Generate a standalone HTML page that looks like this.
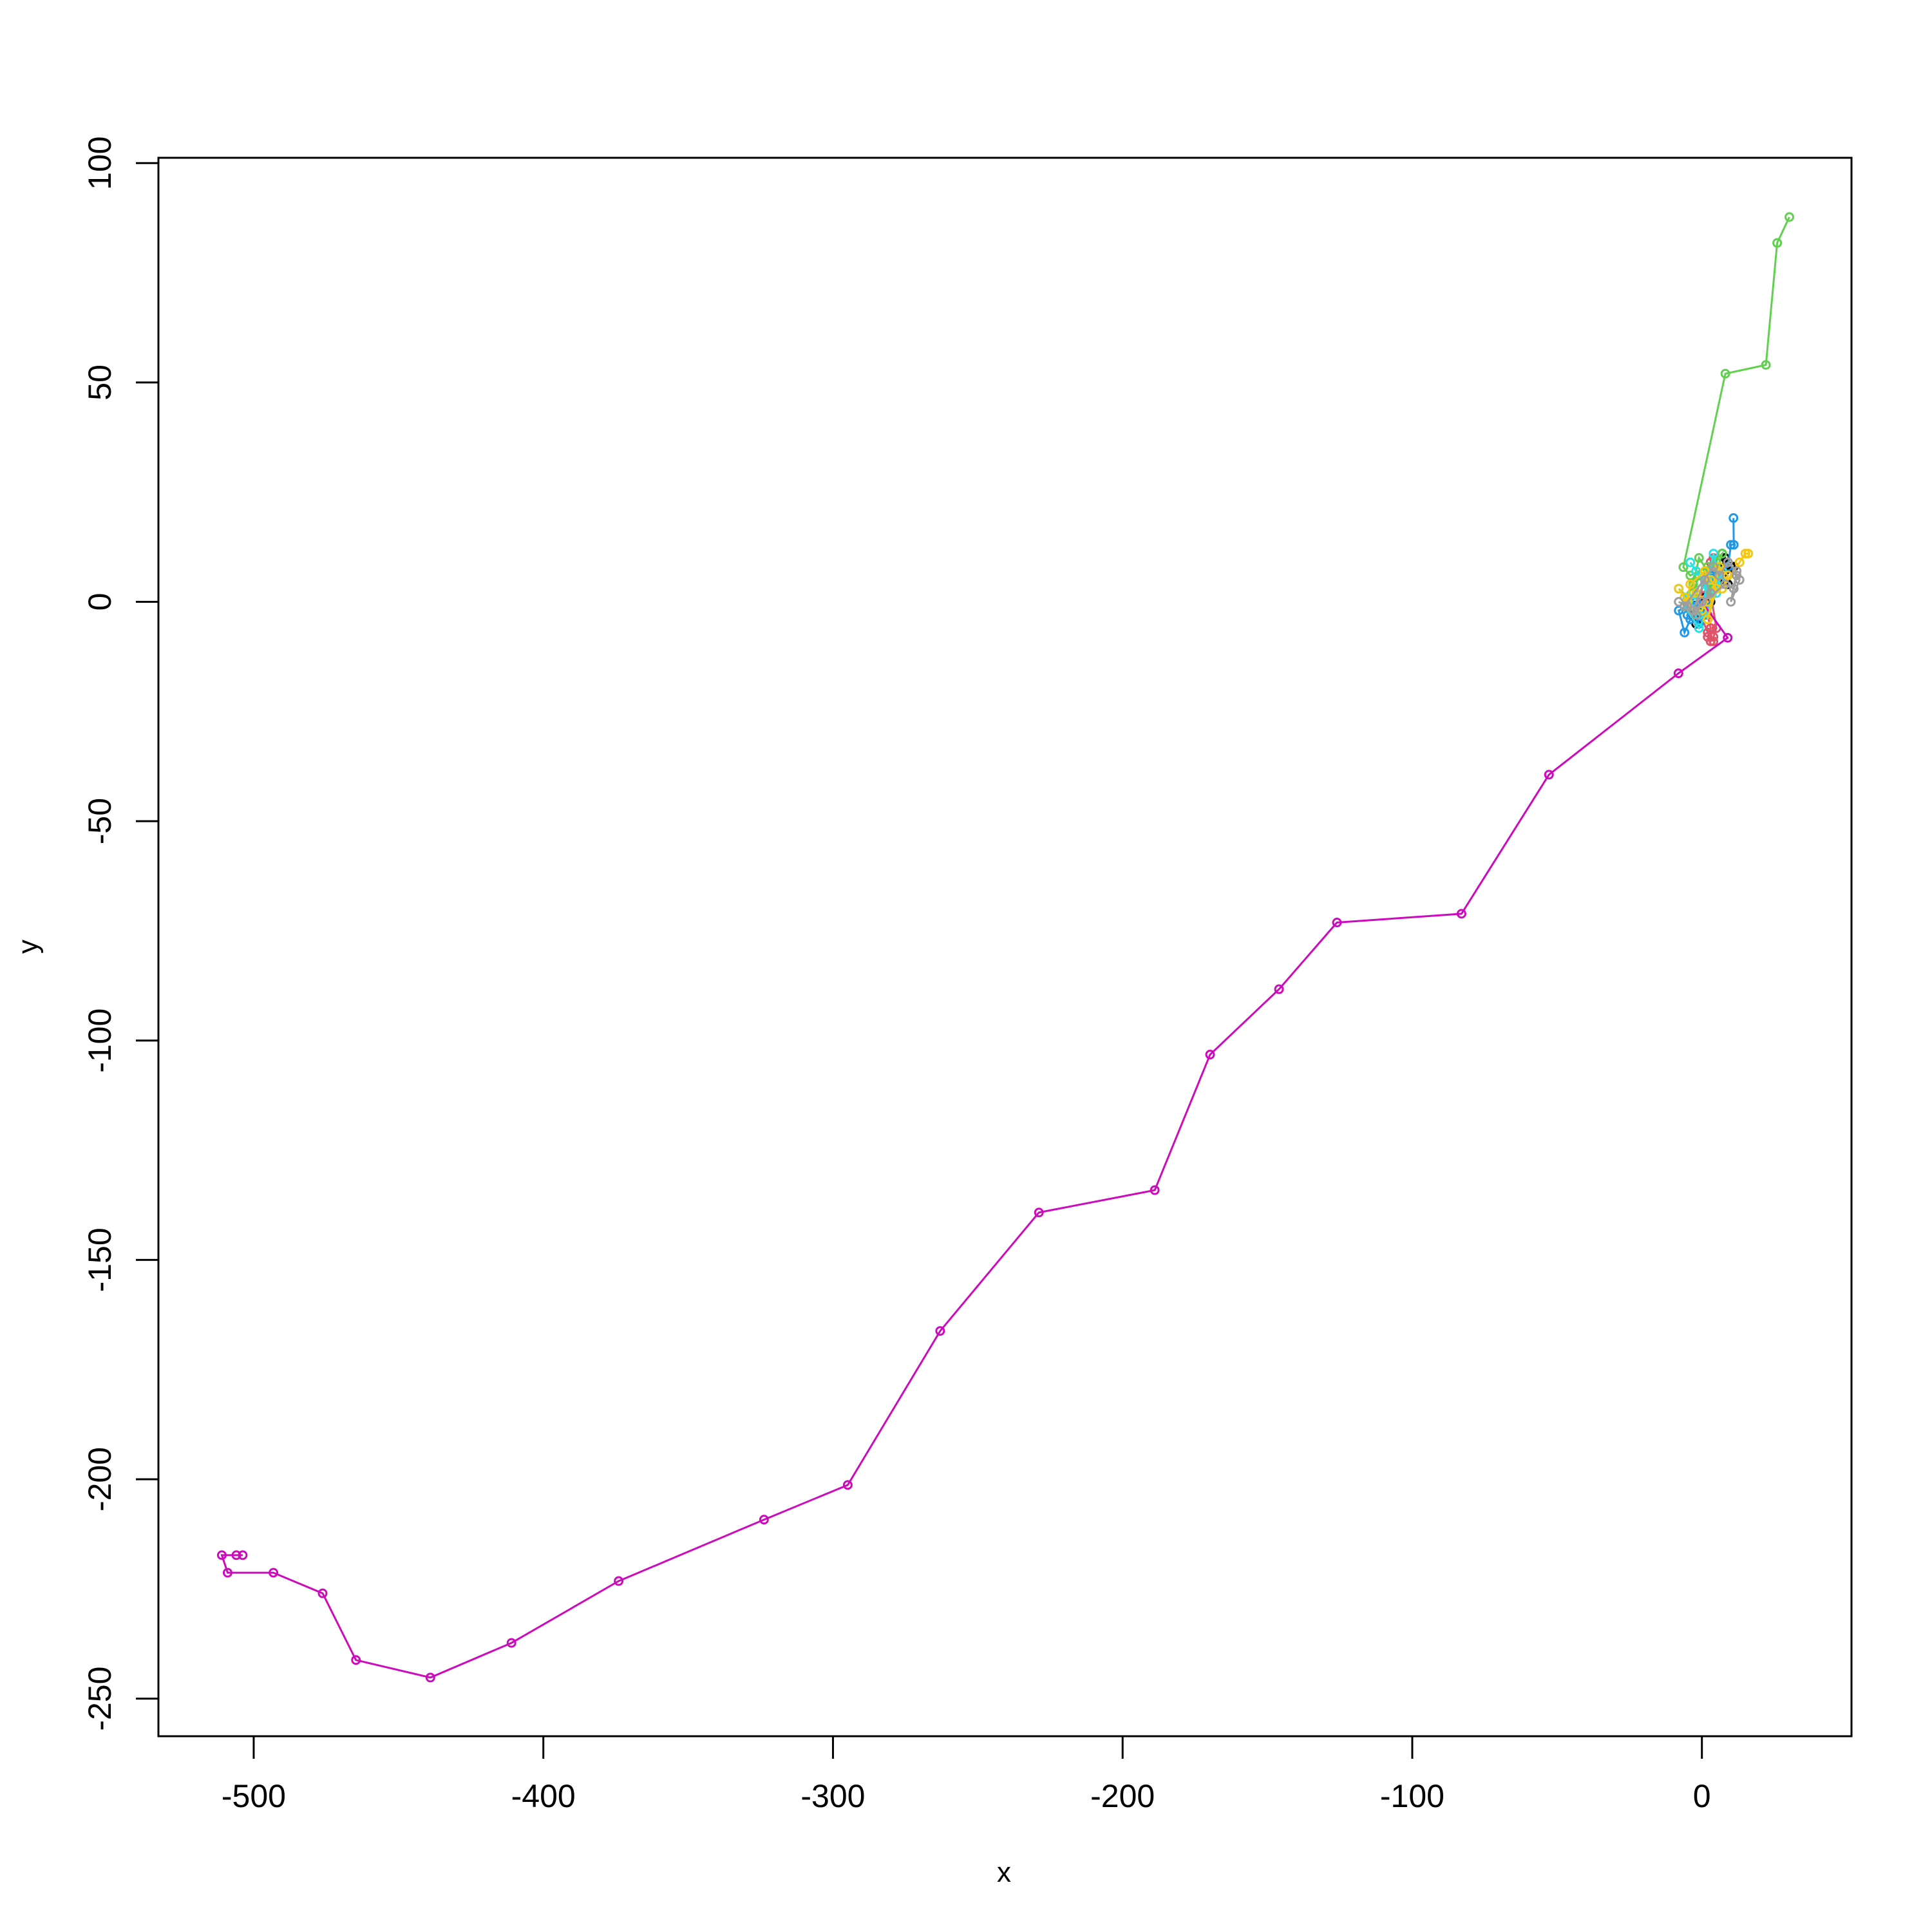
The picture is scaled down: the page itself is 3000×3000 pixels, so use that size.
<!DOCTYPE html>
<html><head><meta charset="utf-8"><style>
html,body{margin:0;padding:0;background:#fff;}
svg{display:block;font-family:"Liberation Sans",Arial,sans-serif;}
</style></head><body>
<svg id="chart" width="3000" height="3000" viewBox="0 0 3000 3000">
<rect x="0" y="0" width="3000" height="3000" fill="#fff"/>
<g id="marks"></g>
<rect x="246" y="245" width="2629" height="2451" fill="none" stroke="#000" stroke-width="3"/>
<g id="axes"></g>
<text x="1559" y="2922" font-size="44" text-anchor="middle">x</text>
<text x="0" y="0" font-size="44" text-anchor="middle" transform="translate(58,1470) rotate(-90)">y</text>
</svg>
<script>
const xTicks = [-500,-400,-300,-200,-100,0];
const yTicks = [-250,-200,-150,-100,-50,0,50,100];
const seriesNames = ['black','red','green','blue','cyan','magenta','yellow','gray'];
const seriesColors = ['#000000','#DF536B','#61D04F','#2297E6','#28E2E5','#CD0BBC','#F5C710','#9E9E9E'];
const blackX = [0,-5,-3,-2,0,-1,3,6,8,7,9,10,8,6,9,11,4,1,-2,0];
const blackY = [0,0,-3,-5,-1,-4,0,4,8,11,9,8,10,6,4,8,3,1,-1,0];
const redX = [0,2,3,2,3,4,5,3,6,4,1,2,5,3,0,-1,2,4];
const redY = [0,-3,-6,-8,-9,-8,-6,2,7,10,5,1,4,9,3,-2,-7,-9];
const greenX = [-2,-4,-6,-3,-1,2,5,3,-1,-3,-5,0,4,7,2,-4,-6.4,8.1,22.1,26,30.2];
const greenY = [-1,-2,1,4,10,7,9,3,6,2,-1,-2,5,11,8,6,7.9,52,54,81.8,87.7];
const blueX = [-2,-8,-6,-4,-1,-3,-5,1,2,5,3,9,10,11,10.9];
const blueY = [0,-2,-7,-4,-5,-1,-3,-3,-1,3,6,8,13,13,19.1];
const cyanX = [-3,-8,-5,-1,0,2,4,6,3,-2,-4,1,2,7,5,-1,-6];
const cyanY = [0,3,1,-3,-2,5,11,5,2,7,9,4,-4,7,2,-6,-1];
const magentaX = [0,8.9,-8.1,-52.8,-83,-126,-146,-169.8,-188.9,-228.9,-263,-294.9,-323.8,-374,-411,-439,-464.7,-476.2,-493.2,-509,-511,-506,-503.8];
const magentaY = [0,-8.2,-16.3,-39.4,-71.1,-73.1,-88.3,-103.2,-134.1,-139.2,-166.2,-201.3,-209.2,-223.2,-237.3,-245.2,-241.2,-226,-221.3,-221.3,-217.3,-217.3,-217.3];
const yellowX = [-8,-6,-3,0,2,-2,-5,-4,1,3,5,2,6,9,7,13,15,16];
const yellowY = [3,1,-2,-2,0,2,0,4,7,5,3,-4,8,6,3,9,11,11];
const grayX = [-8,-5,-2,0,3,1,-3,8,11,12,13,10,12,9,6,4,-6];
const grayY = [0,-1,-3,0,2,5,-2,4,3,6,5,0,7,9,6,8,-1];

const allX = [blackX,redX,greenX,blueX,cyanX,magentaX,yellowX,grayX];
const allY = [blackY,redY,greenY,blueY,cyanY,magentaY,yellowY,grayY];
const NS='http://www.w3.org/2000/svg';
function sx(v){return 2642.7 + v*4.4975;}
function sy(v){return 934.5 - v*6.8125;}
const marks=document.getElementById('marks');
const axes=document.getElementById('axes');
for(let s=0;s<allX.length;s++){
  const g=document.createElementNS(NS,'g');
  
  
  const col=seriesColors[s];
  const pts=allX[s].map((v,i)=>sx(v).toFixed(1)+','+sy(allY[s][i]).toFixed(1)).join(' ');
  const pl=document.createElementNS(NS,'polyline');
  pl.setAttribute('points',pts);
  pl.setAttribute('fill','none');pl.setAttribute('stroke',col);pl.setAttribute('stroke-width','3');
  
  
  g.appendChild(pl);
  allX[s].forEach((v,i)=>{
    const c=document.createElementNS(NS,'circle');
    c.setAttribute('cx',sx(v));c.setAttribute('cy',sy(allY[s][i]));c.setAttribute('r','6');
    c.setAttribute('fill','none');c.setAttribute('stroke',col);c.setAttribute('stroke-width','3');
    
    
    g.appendChild(c);
  });
  marks.appendChild(g);
}
xTicks.forEach(t=>{
  const x=sx(t);
  const l=document.createElementNS(NS,'line');
  l.setAttribute('x1',x);l.setAttribute('x2',x);l.setAttribute('y1',2696);l.setAttribute('y2',2731);
  l.setAttribute('stroke','#000');l.setAttribute('stroke-width','3');
  
  
  axes.appendChild(l);
  const tx=document.createElementNS(NS,'text');
  tx.setAttribute('x',x);tx.setAttribute('y',2806);tx.setAttribute('font-size','50');tx.setAttribute('text-anchor','middle');
  tx.textContent=t;
  
  
  axes.appendChild(tx);
});
yTicks.forEach(t=>{
  const y=sy(t);
  const l=document.createElementNS(NS,'line');
  l.setAttribute('x1',211);l.setAttribute('x2',246);l.setAttribute('y1',y);l.setAttribute('y2',y);
  l.setAttribute('stroke','#000');l.setAttribute('stroke-width','3');
  
  
  axes.appendChild(l);
  const tx=document.createElementNS(NS,'text');
  tx.setAttribute('x',0);tx.setAttribute('y',0);tx.setAttribute('font-size','50');tx.setAttribute('text-anchor','middle');
  tx.setAttribute('transform','translate(172,'+y+') rotate(-90)');
  tx.textContent=t;
  
  
  axes.appendChild(tx);
});
</script>
</body></html>
